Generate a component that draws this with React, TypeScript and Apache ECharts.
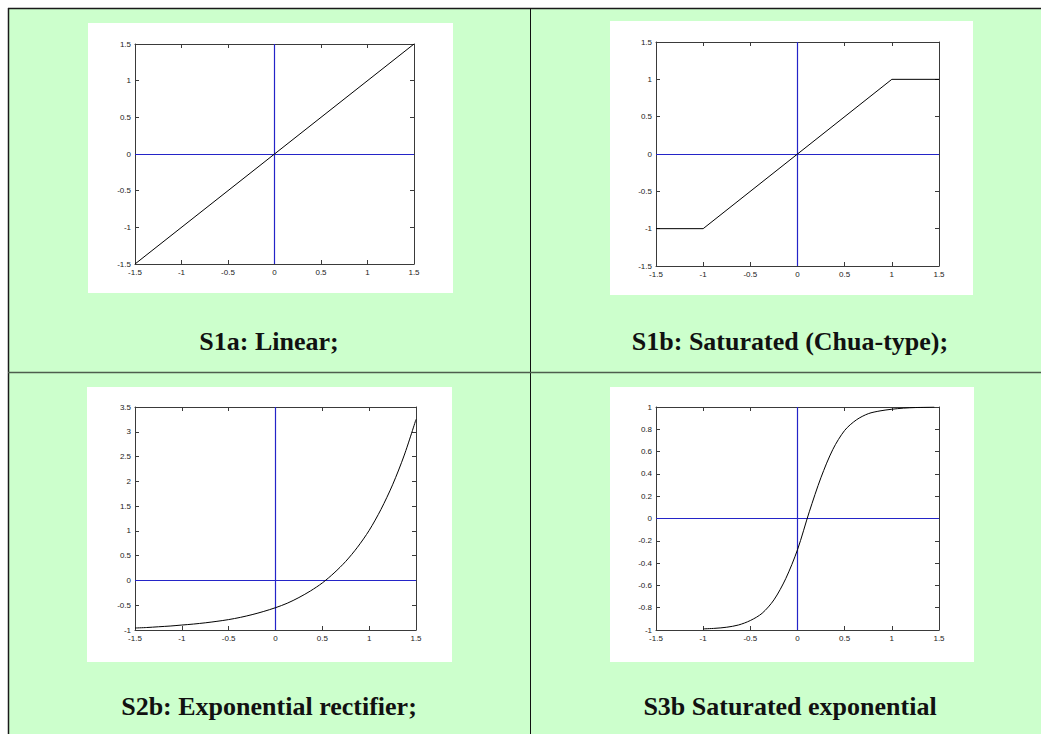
import React, { useEffect, useRef } from "react";
import * as echarts from "echarts";

// ---- data ----
const linearX = [-1.5, 0, 1.5];
const linearY = [-1.5, 0, 1.5];

const chuaX = [-1.5, -1, 0, 1, 1.5];
const chuaY = [-1, -1, 0, 1, 1];

const expX = [-1.5, -1.375, -1.25, -1.125, -1, -0.875, -0.75, -0.625, -0.5, -0.375, -0.25, -0.125, 0, 0.125, 0.25, 0.375, 0.5, 0.625, 0.75, 0.875, 1, 1.125, 1.25, 1.375, 1.5];
const expY = [-0.96, -0.95, -0.935, -0.92, -0.9, -0.88, -0.855, -0.825, -0.79, -0.745, -0.69, -0.625, -0.55, -0.46, -0.345, -0.21, -0.05, 0.15, 0.385, 0.67, 1.01, 1.43, 1.93, 2.53, 3.25];

const sigX = [-1, -0.875, -0.75, -0.625, -0.5, -0.375, -0.25, -0.125, 0, 0.125, 0.25, 0.375, 0.5, 0.625, 0.75, 0.875, 1, 1.125, 1.25, 1.45];
const sigY = [-0.99, -0.985, -0.975, -0.955, -0.915, -0.85, -0.73, -0.54, -0.28, 0.06, 0.37, 0.62, 0.79, 0.885, 0.94, 0.965, 0.98, 0.99, 0.995, 1.0];

const panelTitles = [
  "S1a: Linear;",
  "S1b: Saturated (Chua-type);",
  "S2b: Exponential rectifier;",
  "S3b Saturated exponential",
];

const xRange = { min: -1.5, max: 1.5, interval: 0.5 };
const yRanges = [
  { min: -1.5, max: 1.5, interval: 0.5 },
  { min: -1.5, max: 1.5, interval: 0.5 },
  { min: -1, max: 3.5, interval: 0.5 },
  { min: -1, max: 1, interval: 0.2 },
];

const seriesData = [
  [linearX, linearY, false],
  [chuaX, chuaY, false],
  [expX, expY, true],
  [sigX, sigY, true],
] as const;

// ---- layout ----
const grids = [
  { left: 135, top: 44, width: 279, height: 220 },
  { left: 656, top: 42, width: 283, height: 224 },
  { left: 135, top: 407, width: 281, height: 223 },
  { left: 656, top: 407, width: 283, height: 223 },
];
const panels = [
  { x: 88, y: 23, w: 365, h: 270 },
  { x: 610, y: 21, w: 363, h: 274 },
  { x: 87, y: 387, w: 365, h: 275 },
  { x: 610, y: 387, w: 364, h: 275 },
];
const titlePos = [
  { x: 269, y: 341 },
  { x: 790, y: 341 },
  { x: 269, y: 706 },
  { x: 790, y: 706 },
];

const AXIS_COLOR = "#3a3a3a";
const BLUE = "#2424c8";
const GREEN = "#ccffcc";

export default function App() {
  const ref = useRef<HTMLDivElement>(null);

  useEffect(() => {
    if (!ref.current) return;
    const chart = echarts.init(ref.current, undefined, { renderer: "svg" });

    const labelStyle = {
      fontSize: 8,
      fontFamily: "Liberation Sans, Arial, sans-serif",
      color: "#222",
    };

    const xAxes: any[] = [];
    const yAxes: any[] = [];
    const series: any[] = [];

    grids.forEach((_, i) => {
      const common = {
        gridIndex: i,
        type: "value",
        splitLine: { show: false },
        axisLine: { show: true, onZero: false, lineStyle: { color: AXIS_COLOR, width: 1 } },
        axisTick: { show: true, inside: true, length: 4, lineStyle: { color: AXIS_COLOR } },
      };
      xAxes.push({
        ...common,
        ...xRange,
        position: "bottom",
        axisLabel: { ...labelStyle, margin: 4, showMinLabel: true, showMaxLabel: true },
      });
      xAxes.push({
        ...common,
        ...xRange,
        position: "top",
        axisLabel: { show: false },
      });
      yAxes.push({
        ...common,
        ...yRanges[i],
        position: "left",
        axisLabel: { ...labelStyle, margin: 4, showMinLabel: true, showMaxLabel: true },
      });
      yAxes.push({
        ...common,
        ...yRanges[i],
        position: "right",
        axisLabel: { show: false },
      });

      const [xs, ys, smooth] = seriesData[i];
      series.push({
        type: "line",
        xAxisIndex: i * 2,
        yAxisIndex: i * 2,
        data: xs.map((x, j) => [x, ys[j]]),
        symbol: "none",
        showSymbol: false,
        smooth: smooth ? 0.3 : false,
        lineStyle: { color: "#000", width: 1 },
        z: 4,
        markLine: {
          silent: true,
          symbol: ["none", "none"],
          label: { show: false },
          lineStyle: { color: BLUE, width: 1.2, type: "solid" },
          data: [{ xAxis: 0 }, { yAxis: 0 }],
          z: 3,
        },
      });
    });

    const graphics: any[] = [
      {
        type: "rect",
        shape: { x: 8, y: 8, width: 1040, height: 730 },
        style: { fill: GREEN },
        z: -20,
        silent: true,
      },
      ...panels.map((p) => ({
        type: "rect",
        shape: { x: p.x, y: p.y, width: p.w, height: p.h },
        style: { fill: "#ffffff" },
        z: -15,
        silent: true,
      })),
      {
        type: "line",
        shape: { x1: 8, y1: 8.5, x2: 1041, y2: 8.5 },
        style: { stroke: "#1a1a1a", lineWidth: 1.5 },
        z: -10,
      },
      {
        type: "line",
        shape: { x1: 8.5, y1: 8, x2: 8.5, y2: 734 },
        style: { stroke: "#1a1a1a", lineWidth: 1.5 },
        z: -10,
      },
      {
        type: "line",
        shape: { x1: 530.5, y1: 8, x2: 530.5, y2: 734 },
        style: { stroke: "#111", lineWidth: 1 },
        z: -10,
      },
      {
        type: "line",
        shape: { x1: 8, y1: 372.5, x2: 1041, y2: 372.5 },
        style: { stroke: "#4d5e4d", lineWidth: 1.5 },
        z: -10,
      },
      ...panelTitles.map((t, i) => ({
        type: "text",
        x: titlePos[i].x,
        y: titlePos[i].y,
        z: 10,
        style: {
          text: t,
          fill: "#111",
          font: "bold 26px 'Liberation Serif', 'Times New Roman', serif",
          align: "center",
          verticalAlign: "middle",
        },
      })),
    ];

    chart.setOption({
      animation: false,
      backgroundColor: "#ffffff",
      grid: grids.map((g) => ({ ...g, containLabel: false, outerBoundsMode: "none" })),
      xAxis: xAxes,
      yAxis: yAxes,
      series,
      graphic: graphics,
    });

    return () => chart.dispose();
  }, []);

  return (
    <div
      ref={ref}
      style={{ position: "absolute", left: 0, top: 0, width: 1041, height: 734 }}
    />
  );
}
